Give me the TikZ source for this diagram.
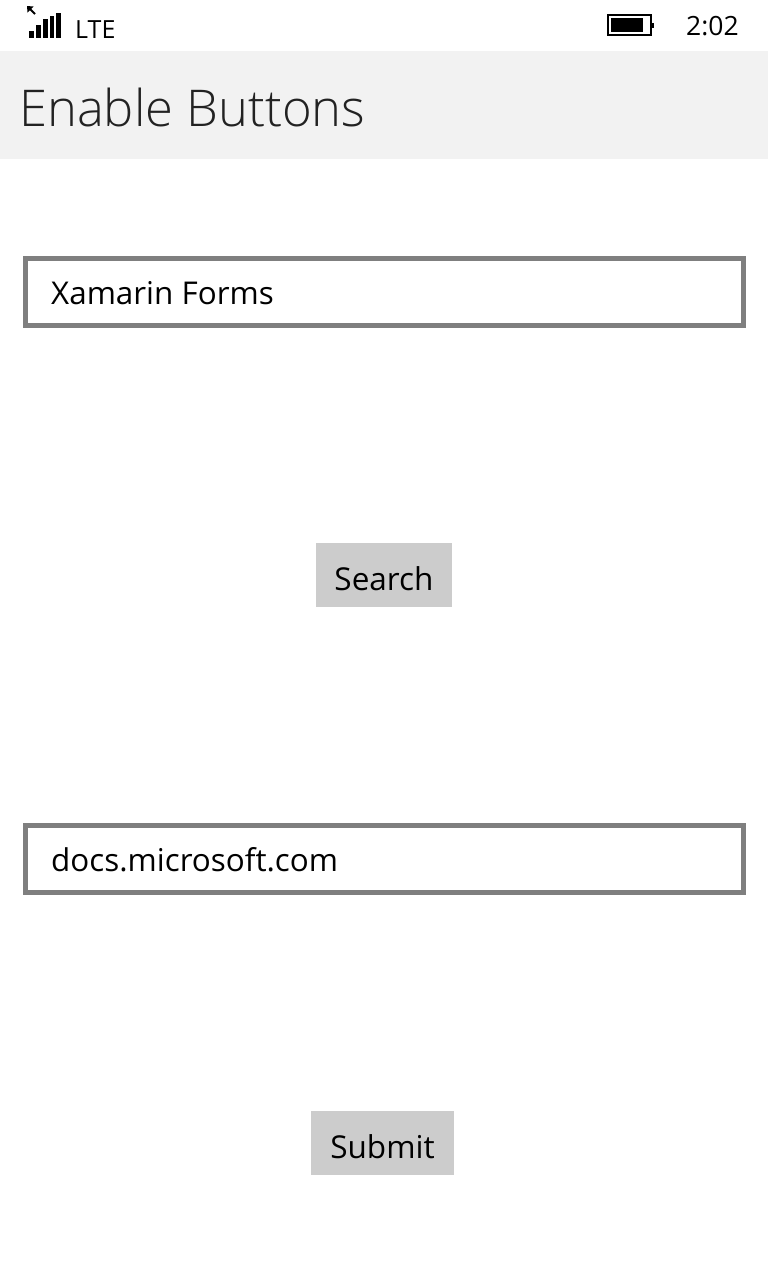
\documentclass[tikz,border=0pt]{standalone}
\usepackage{fontspec}
\setmainfont{Open Sans}
\newfontfamily\lightfont{Open Sans Light}
\definecolor{headgray}{HTML}{F2F2F2}
\definecolor{btngray}{HTML}{CCCCCC}
\definecolor{fieldgray}{HTML}{7F7F7F}
\definecolor{inkgray}{HTML}{222222}
\begin{document}
\begin{tikzpicture}[x=1pt,y=-1pt,
    field/.style = {draw=fieldgray, line width=5pt, fill=white, minimum width=718pt, minimum height=67pt, inner sep=0pt, outer sep=0pt},
    btn/.style = {fill=btngray, minimum height=64pt, inner sep=0pt, outer sep=0pt, text height=30pt, text depth=0pt, font=\fontsize{31.5}{36}\selectfont},
    entry/.style = {anchor=base west, inner sep=0pt, font=\fontsize{31.4}{36}\selectfont},
    status/.style = {anchor=base west, inner sep=0pt}]
    \useasboundingbox (0,0) rectangle (768,1280);

    % Barra de estado
    \fill[black] (29,31) rectangle (34,37.5);
    \fill[black] (36,25) rectangle (41,37.5);
    \fill[black] (43,19) rectangle (47.5,37.5);
    \fill[black] (49.5,16) rectangle (54,37.5);
    \fill[black] (56,12.5) rectangle (61,37.5);
    \draw[black, line width=1.8pt] (35,14) -- (29,8);
    \fill[black] (27,6) -- (33.5,6.5) -- (27.5,12.5) -- cycle;
    \node[status, font=\fontsize{25}{30}\selectfont] (lte) at (75,38) {LTE};
    \draw[black, line width=2pt] (608,15) rectangle (651,35);
    \fill[black] (611,18) rectangle (643,32);
    \fill[black] (651,22.5) rectangle (654,27.5);
    \node[status, font=\fontsize{26.5}{30}\selectfont] (clock) at (686,35) {2:02};

    % Cabecera
    \node[fill=headgray, minimum width=768pt, minimum height=108pt, inner sep=0pt, outer sep=0pt] (header) at (384,105) {};
    \node[anchor=base west, inner sep=0pt, text=inkgray, font=\lightfont\fontsize{50.7}{60}\selectfont] (title) at (19,126) {Enable Buttons};

    % Campos
    \node[field] (field1) at (384.5,292) {};
    \node[entry] (text1) at (51,304) {Xamarin Forms};
    \node[field] (field2) at (384.5,859) {};
    \node[entry] (text2) at (51,871) {docs.microsoft.com};

    % Botones
    \node[btn, minimum width=136pt] (search) at (384,575) {Search};
    \node[btn, minimum width=143pt] (submit) at (382.5,1143) {Submit};
\end{tikzpicture}
\end{document}
